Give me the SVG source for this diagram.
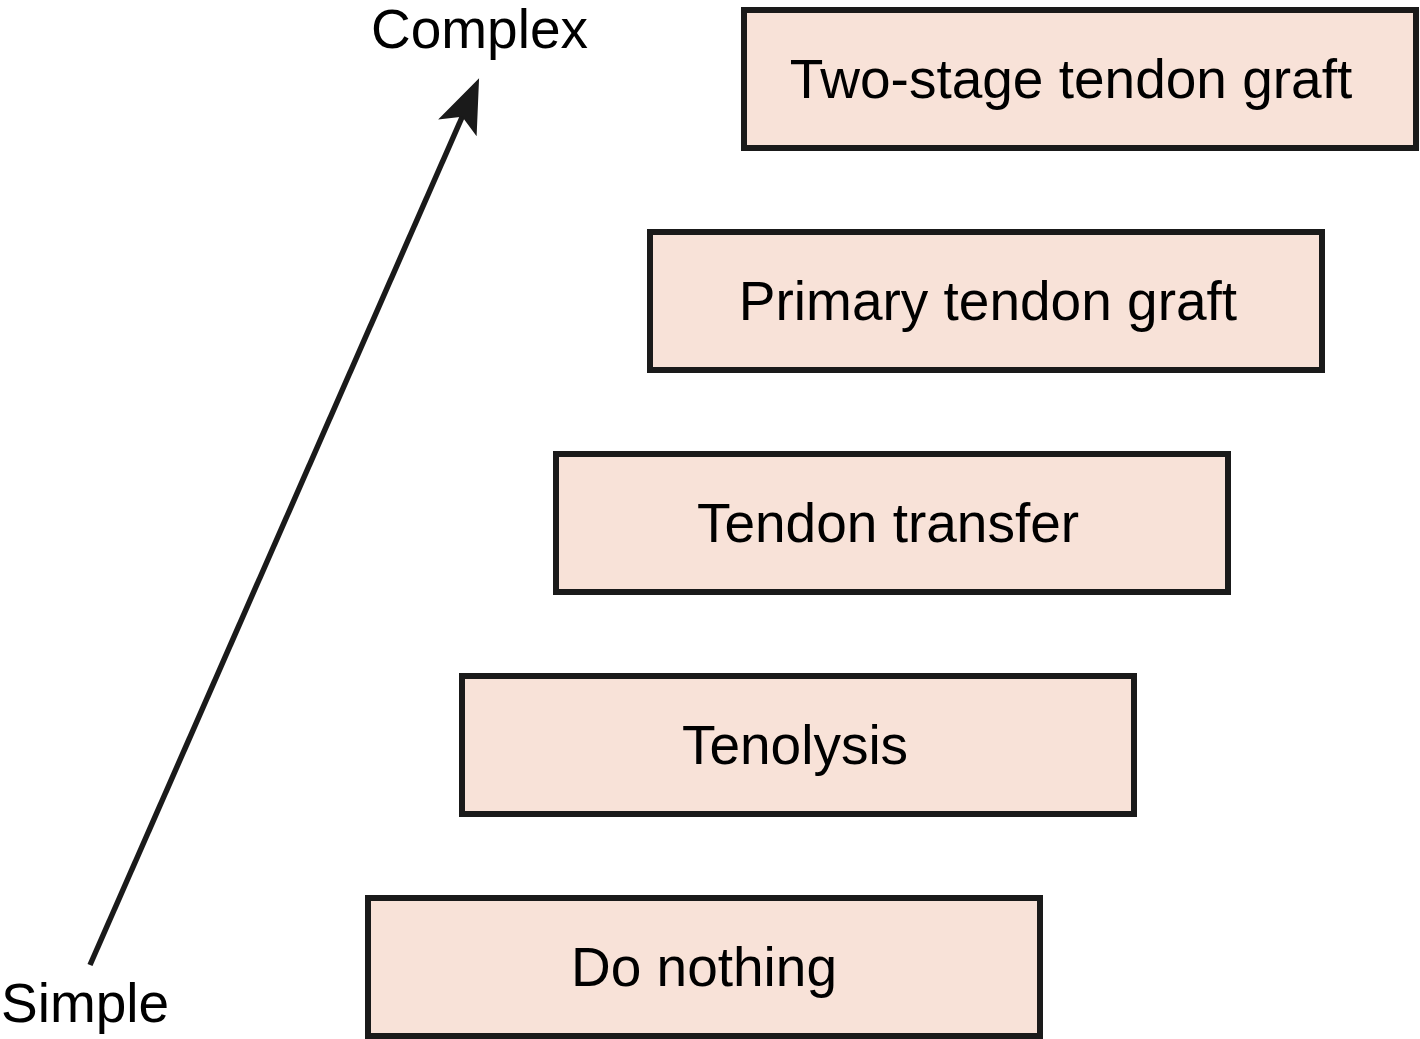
<svg xmlns="http://www.w3.org/2000/svg" width="1420" height="1039" viewBox="0 0 1420 1039">
<style>
.box{fill:#f8e2d8;stroke:#1a1a1a;stroke-width:6}
.t{font-family:"Liberation Sans",Arial,sans-serif;font-size:55px;fill:#000}
.m{text-anchor:middle}
</style>
<defs>
<marker id="ah" markerUnits="userSpaceOnUse" markerWidth="60" markerHeight="60" refX="-40" refY="0" viewBox="-56 -30 60 60" orient="auto">
<path d="M0,0 L-54,-21 L-42,0 L-54,21 Z" fill="#1a1a1a"/>
</marker>
</defs>
<rect width="1420" height="1039" fill="#fff"/>
<g id="connectors">
<line x1="90" y1="965" x2="463" y2="115" stroke="#1a1a1a" stroke-width="5.5" marker-end="url(#ah)"/>
</g>
<g id="node-complex"><text class="t" x="371" y="48">Complex</text></g>
<g id="node-simple"><text class="t" x="1" y="1022">Simple</text></g>
<g id="node-two-stage"><rect class="box" x="744" y="10" width="672" height="138"/><text class="t m" x="1071" y="98">Two-stage tendon graft</text></g>
<g id="node-primary"><rect class="box" x="650" y="232" width="672" height="138"/><text class="t m" x="988" y="320">Primary tendon graft</text></g>
<g id="node-transfer"><rect class="box" x="556" y="454" width="672" height="138"/><text class="t m" x="888" y="542">Tendon transfer</text></g>
<g id="node-tenolysis"><rect class="box" x="462" y="676" width="672" height="138"/><text class="t m" x="795" y="764">Tenolysis</text></g>
<g id="node-do-nothing"><rect class="box" x="368" y="898" width="672" height="138"/><text class="t m" x="704" y="986">Do nothing</text></g>
</svg>
